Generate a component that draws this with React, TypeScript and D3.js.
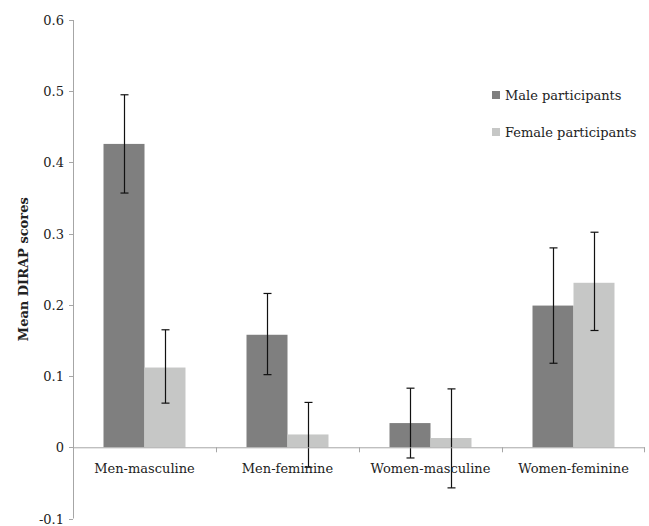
import React, { useEffect, useRef } from 'react';
import * as d3 from 'd3';

const categories = ['Men-masculine', 'Men-feminine', 'Women-masculine', 'Women-feminine'];
const seriesNames = ['Male participants', 'Female participants'];
const maleMeans = [0.426, 0.158, 0.034, 0.199];
const maleLow = [0.357, 0.102, -0.015, 0.118];
const maleHigh = [0.495, 0.216, 0.083, 0.28];
const femaleMeans = [0.112, 0.018, 0.013, 0.231];
const femaleLow = [0.062, -0.028, -0.057, 0.164];
const femaleHigh = [0.165, 0.063, 0.082, 0.302];
const yTicks = [-0.1, 0, 0.1, 0.2, 0.3, 0.4, 0.5, 0.6];

const colors = ['#7f7f7f', '#c6c7c6'];
const font = '"DejaVu Serif", serif';

const App = () => {
    const svgRef = useRef(null);
    const width = 649;
    const height = 526;

    useEffect(() => {
        const svg = d3.select(svgRef.current);
        svg.selectAll('*').remove();

        const left = 73;
        const right = 645;
        const y = d3.scaleLinear().domain([-0.1, 0.6]).range([518.5, 20]);
        const x0 = d3.scaleBand().domain(categories).range([left, right]);
        const x1 = d3.scaleBand().domain(seriesNames).range([0, x0.bandwidth()]).paddingOuter(0.744);

        const rows = categories.map((c, i) => ({
            cat: c,
            values: [
                { s: seriesNames[0], v: maleMeans[i], lo: maleLow[i], hi: maleHigh[i], color: colors[0] },
                { s: seriesNames[1], v: femaleMeans[i], lo: femaleLow[i], hi: femaleHigh[i], color: colors[1] },
            ],
        }));

        // bars
        const groups = svg
            .selectAll('g.cat')
            .data(rows)
            .enter()
            .append('g')
            .attr('class', 'cat')
            .attr('transform', (d) => `translate(${x0(d.cat)},0)`);

        groups
            .selectAll('rect')
            .data((d) => d.values)
            .enter()
            .append('rect')
            .attr('x', (d) => x1(d.s))
            .attr('width', x1.bandwidth())
            .attr('y', (d) => y(Math.max(0, d.v)))
            .attr('height', (d) => Math.abs(y(d.v) - y(0)))
            .style('fill', (d) => d.color);

        // axes
        const axisColor = '#a6a6a6';
        svg.append('line')
            .attr('x1', left + 0.5)
            .attr('x2', left + 0.5)
            .attr('y1', y(0.6))
            .attr('y2', y(-0.1))
            .style('stroke', axisColor);

        svg.append('line')
            .attr('x1', left)
            .attr('x2', right)
            .attr('y1', y(0) + 0.5)
            .attr('y2', y(0) + 0.5)
            .style('stroke', axisColor);

        yTicks.forEach((t) => {
            const ty = Math.round(y(t)) + 0.5;
            svg.append('line')
                .attr('x1', left - 4)
                .attr('x2', left)
                .attr('y1', ty)
                .attr('y2', ty)
                .style('stroke', axisColor);
            svg.append('text')
                .attr('x', left - 9)
                .attr('y', ty + 4.5)
                .attr('text-anchor', 'end')
                .style('font-family', font)
                .style('font-size', '13px')
                .style('fill', '#222')
                .text(t === 0 ? '0' : d3.format('.1f')(t).replace('−', '-'));
        });

        categories.forEach((c, i) => {
            if (i > 0) {
                const tx = Math.round(x0(c)) + 0.5;
                svg.append('line')
                    .attr('x1', tx)
                    .attr('x2', tx)
                    .attr('y1', y(0))
                    .attr('y2', y(0) + 5)
                    .style('stroke', axisColor);
            }
            svg.append('text')
                .attr('x', x0(c) + x0.bandwidth() / 2)
                .attr('y', y(0) + 26)
                .attr('text-anchor', 'middle')
                .style('font-family', font)
                .style('font-size', '13px')
                .style('fill', '#222')
                .text(c);
        });
        svg.append('line')
            .attr('x1', right - 0.5)
            .attr('x2', right - 0.5)
            .attr('y1', y(0))
            .attr('y2', y(0) + 5)
            .style('stroke', axisColor);

        // error bars
        const errs = groups
            .selectAll('g.err')
            .data((d) => d.values)
            .enter()
            .append('g')
            .attr('class', 'err')
            .attr('transform', (d) => `translate(${Math.round(x1(d.s) + x1.bandwidth() / 2) + 0.5},0)`);
        errs.append('line')
            .attr('y1', (d) => y(d.hi))
            .attr('y2', (d) => y(d.lo))
            .style('stroke', '#111')
            .style('stroke-width', 1.2);
        errs.append('line')
            .attr('x1', -4)
            .attr('x2', 4)
            .attr('y1', (d) => y(d.hi))
            .attr('y2', (d) => y(d.hi))
            .style('stroke', '#111')
            .style('stroke-width', 1.2);
        errs.append('line')
            .attr('x1', -4)
            .attr('x2', 4)
            .attr('y1', (d) => y(d.lo))
            .attr('y2', (d) => y(d.lo))
            .style('stroke', '#111')
            .style('stroke-width', 1.2);

        // y axis title
        svg.append('text')
            .attr('transform', `translate(28,${(y(0.6) + y(-0.1)) / 2}) rotate(-90)`)
            .attr('text-anchor', 'middle')
            .style('font-family', font)
            .style('font-size', '13px')
            .style('font-weight', 'bold')
            .style('fill', '#222')
            .text('Mean DIRAP scores');

        // legend
        seriesNames.forEach((s, i) => {
            const ly = 91 + i * 37;
            svg.append('rect')
                .attr('x', 492)
                .attr('y', ly)
                .attr('width', 8)
                .attr('height', 8)
                .style('fill', colors[i]);
            svg.append('text')
                .attr('x', 505)
                .attr('y', ly + 9)
                .style('font-family', font)
                .style('font-size', '13px')
                .style('fill', '#222')
                .text(s);
        });
    }, []);

    return (
        <svg
            ref={svgRef}
            width={width}
            height={height}
            style={{ position: 'absolute', left: 0, top: 0, background: '#fff' }}
        />
    );
};

export default App;
